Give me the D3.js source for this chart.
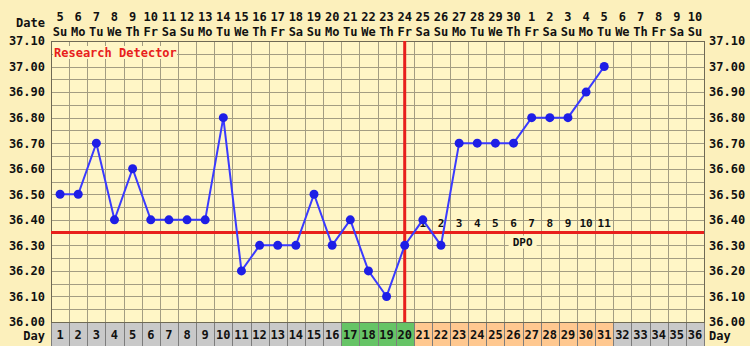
<!DOCTYPE html>
<html lang="en">
<head>
<meta charset="utf-8">
<title>BBT chart</title>
<script src="https://cdn.jsdelivr.net/npm/d3@7"></script>
<style>
  body { margin: 0; background: #fcf0bc; }
  svg text { font-family: "DejaVu Sans Mono", monospace; font-weight: bold; }
</style>
</head>
<body>
<script>
// cycle days, dates and weekdays
var days = d3.range(1, 37);
var dates = ["5","6","7","8","9","10","11","12","13","14","15","16","17","18","19","20","21","22","23","24","25","26","27","28","29","30","1","2","3","4","5","6","7","8","9","10"];
var weekdays = ["Su","Mo","Tu","We","Th","Fr","Sa","Su","Mo","Tu","We","Th","Fr","Sa","Su","Mo","Tu","We","Th","Fr","Sa","Su","Mo","Tu","We","Th","Fr","Sa","Su","Mo","Tu","We","Th","Fr","Sa","Su"];
// temperatures, day 1 to 31
var temps = [36.5,36.5,36.7,36.4,36.6,36.4,36.4,36.4,36.4,36.8,36.2,36.3,36.3,36.3,36.5,36.3,36.4,36.2,36.1,36.3,36.4,36.3,36.7,36.7,36.7,36.7,36.8,36.8,36.8,36.9,37.0];
var yTicks = ["36.00","36.10","36.20","36.30","36.40","36.50","36.60","36.70","36.80","36.90","37.00","37.10"];
var fertileDays = [17, 18, 19, 20];
var ovulationDay = 20;
var coverline = 36.35;
var dpoLabels = ["1","2","3","4","5","6","7","8","9","10","11"];

var w = 750, h = 346;
var plotLeft = 51, plotRight = 704, plotTop = 41, plotBottom = 322;

var svg = d3.select("body").append("svg").attr("width", w).attr("height", h);

var x = d3.scaleBand().domain(days).range([plotLeft, plotRight]);
var y = d3.scaleLinear().domain([36.0, 37.1]).range([plotBottom, plotTop]);
var bw = x.bandwidth();

// plot background
svg.append("rect").attr("x", plotLeft).attr("y", plotTop)
  .attr("width", plotRight - plotLeft).attr("height", plotBottom - plotTop)
  .attr("fill", "#fff6c6");

// horizontal grid every 0.05
svg.selectAll(".hgrid").data(d3.range(0, 23).map(function(i) { return 36 + i * 0.05; }))
  .enter().append("line")
  .attr("x1", plotLeft).attr("x2", plotRight)
  .attr("y1", function(d) { return Math.round(y(d)) + 0.5; })
  .attr("y2", function(d) { return Math.round(y(d)) + 0.5; })
  .attr("stroke", "#a39d82").attr("stroke-width", 1);

// vertical grid
svg.selectAll(".vgrid").data(days.slice(1))
  .enter().append("line")
  .attr("x1", function(d) { return Math.round(x(d)) + 0.5; })
  .attr("x2", function(d) { return Math.round(x(d)) + 0.5; })
  .attr("y1", plotTop).attr("y2", plotBottom)
  .attr("stroke", "#a39d82").attr("stroke-width", 1);

// day row
svg.selectAll(".daycell").data(days)
  .enter().append("rect")
  .attr("x", function(d) { return Math.round(x(d)) + 0.5; })
  .attr("y", plotBottom + 0.5)
  .attr("width", function(d) { return Math.round(x(d) + bw) - Math.round(x(d)); })
  .attr("height", 26)
  .attr("fill", function(d) {
    if (fertileDays.indexOf(d) >= 0) return "#66c466";
    if (d > ovulationDay && d <= temps.length) return "#ffc890";
    return "#c9c9c9";
  })
  .attr("stroke", "#7d7d7d");

svg.selectAll(".daynum").data(days)
  .enter().append("text")
  .attr("x", function(d) { return x(d) + bw / 2; })
  .attr("y", 339)
  .attr("text-anchor", "middle")
  .attr("font-size", 12)
  .attr("fill", "#111")
  .text(function(d) { return d; });

// plot border
svg.append("rect").attr("x", plotLeft + 0.5).attr("y", plotTop + 0.5)
  .attr("width", plotRight - plotLeft).attr("height", plotBottom - plotTop)
  .attr("fill", "none").attr("stroke", "#6f6a55");

// header: dates and weekdays
svg.selectAll(".date").data(days)
  .enter().append("text")
  .attr("x", function(d) { return x(d) + bw / 2; })
  .attr("y", 21)
  .attr("text-anchor", "middle").attr("font-size", 12).attr("fill", "#111")
  .text(function(d, i) { return dates[i]; });
svg.selectAll(".wday").data(days)
  .enter().append("text")
  .attr("x", function(d) { return x(d) + bw / 2; })
  .attr("y", 36)
  .attr("text-anchor", "middle").attr("font-size", 12).attr("fill", "#111")
  .text(function(d, i) { return weekdays[i]; });
svg.append("text").attr("x", 45).attr("y", 27).attr("text-anchor", "end")
  .attr("font-size", 12).attr("fill", "#111").text("Date");
svg.append("text").attr("x", 45).attr("y", 340).attr("text-anchor", "end")
  .attr("font-size", 12).attr("fill", "#111").text("Day");
svg.append("text").attr("x", 709).attr("y", 340).attr("text-anchor", "start")
  .attr("font-size", 12).attr("fill", "#111").text("Day");

// y labels both sides
var leftAxis = d3.axisLeft(y).tickValues(yTicks.map(Number)).tickFormat(d3.format(".2f")).tickSize(0).tickPadding(6);
var rightAxis = d3.axisRight(y).tickValues(yTicks.map(Number)).tickFormat(d3.format(".2f")).tickSize(0).tickPadding(5);
[svg.append("g").attr("transform", "translate(" + plotLeft + ",0)").call(leftAxis),
 svg.append("g").attr("transform", "translate(" + plotRight + ",0)").call(rightAxis)].forEach(function(g) {
  g.select(".domain").remove();
  g.selectAll("text").attr("font-size", 12).attr("fill", "#111")
    .attr("font-family", "DejaVu Sans Mono, monospace").attr("font-weight", "bold");
});

// Research Detector label
svg.append("rect").attr("x", plotLeft + 2).attr("y", 46).attr("width", 124).attr("height", 13).attr("fill", "#fff6c6");
svg.append("text").attr("x", plotLeft + 3).attr("y", 57).attr("font-size", 12).attr("fill", "#e8201c")
  .text("Research Detector");

// coverline and ovulation line
svg.append("line").attr("x1", plotLeft).attr("x2", plotRight)
  .attr("y1", y(coverline)).attr("y2", y(coverline))
  .attr("stroke", "#e8201c").attr("stroke-width", 3);
svg.append("line")
  .attr("x1", x(ovulationDay) + bw / 2).attr("x2", x(ovulationDay) + bw / 2)
  .attr("y1", plotTop).attr("y2", plotBottom)
  .attr("stroke", "#e8201c").attr("stroke-width", 3);

// DPO numbers
svg.selectAll(".dpo").data(dpoLabels)
  .enter().append("text")
  .attr("x", function(d, i) { return x(ovulationDay + 1 + i) + bw / 2; })
  .attr("y", y(coverline) - 6)
  .attr("text-anchor", "middle").attr("font-size", 11).attr("fill", "#111")
  .text(function(d) { return d; });
var dpoX = x(27);
svg.append("rect").attr("x", dpoX - 14).attr("y", y(coverline) + 3).attr("width", 28).attr("height", 13).attr("fill", "#fff6c6");
svg.append("text").attr("x", dpoX).attr("y", y(coverline) + 13)
  .attr("text-anchor", "middle").attr("font-size", 11).attr("fill", "#111").text("DPO");

// temperature line and points
var line = d3.line()
  .x(function(d, i) { return x(days[i]) + bw / 2; })
  .y(function(d) { return y(d); });
svg.append("path").datum(temps).attr("d", line)
  .attr("fill", "none").attr("stroke", "#3a3aff").attr("stroke-width", 2);
svg.selectAll(".pt").data(temps)
  .enter().append("circle")
  .attr("cx", function(d, i) { return x(days[i]) + bw / 2; })
  .attr("cy", function(d) { return y(d); })
  .attr("r", 4.5)
  .attr("fill", "#1e1ee6");
</script>
</body>
</html>
